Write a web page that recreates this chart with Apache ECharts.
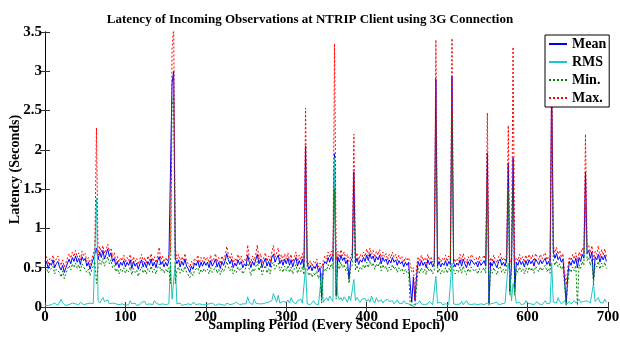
<!DOCTYPE html>
<html>
<head>
<meta charset="utf-8">
<script src="https://cdn.jsdelivr.net/npm/echarts@6/dist/echarts.min.js"></script>
<style>
  html, body { margin: 0; padding: 0; background: #fff; }
  #latencyChart { width: 620px; height: 337px; }
</style>
</head>
<body>
<div id="latencyChart"></div>
<script>
// every second epoch, 0 .. 698; latencies in hundredths of a second
const meanCs = [
  52,58,49,56,53,60,50,55,58,51,47,53,44,50,56,61,55,63,58,65,57,62,54,64,59,
  62,52,57,48,55,61,68,75,60,70,63,72,61,67,74,64,69,58,62,53,58,50,57,53,59,
  51,57,53,60,49,58,52,56,48,55,60,51,57,50,58,53,61,52,57,50,59,64,54,58,51,
  57,52,59,60,285,300,62,55,60,51,58,53,61,52,49,44,52,48,56,53,59,50,57,52,58,
  53,57,50,59,52,56,61,51,57,49,58,53,59,68,60,55,61,50,56,52,60,54,58,50,55,
  52,66,57,50,58,53,60,67,55,61,50,57,62,52,58,51,63,67,57,62,66,55,60,53,61,
  55,62,53,60,51,58,63,52,59,54,61,50,205,56,48,53,46,52,49,55,45,50,12,53,58,
  55,63,57,64,58,195,15,64,57,66,59,63,55,60,35,58,62,172,56,62,54,60,57,63,58,
  66,59,68,61,65,57,64,60,66,55,63,58,61,54,60,56,63,57,60,53,59,55,58,51,57,
  53,57,30,6,38,8,40,58,52,59,53,57,50,60,54,58,51,56,290,52,58,51,56,53,59,
  52,58,54,293,57,51,56,53,60,52,61,55,50,58,53,60,62,54,57,51,58,53,56,59,52,
  196,5,57,52,59,54,50,58,61,53,57,52,60,183,20,55,190,20,57,53,60,54,58,51,59,
  53,60,55,59,52,61,63,54,60,55,59,62,54,58,52,290,70,62,68,60,64,57,61,35,5,
  40,58,53,60,55,62,50,63,58,67,62,172,68,72,62,70,35,64,60,67,57,65,60,66,58
];
const rmsCs = [
  2,3,2,4,3,2,5,3,2,4,10,5,3,2,4,3,2,5,3,4,2,3,6,4,3,
  2,4,3,5,3,4,6,138,8,5,4,12,7,5,9,4,6,5,3,4,5,3,2,4,3,
  2,4,3,8,4,3,5,2,4,3,6,4,7,3,5,4,6,3,8,5,4,3,5,4,6,
  3,5,4,56,10,8,56,4,3,5,2,4,3,5,4,2,3,6,4,3,5,4,2,3,4,
  3,2,4,3,5,4,2,3,4,6,3,4,2,5,4,3,5,4,3,6,4,3,5,4,3,
  4,13,6,4,3,10,5,3,4,6,4,3,5,4,6,4,8,17,12,6,15,5,4,7,5,
  6,9,5,12,7,5,4,8,6,10,5,7,50,4,6,3,5,8,4,6,3,5,43,6,9,
  12,8,14,10,7,190,45,15,9,12,8,13,10,6,14,8,10,35,8,12,9,6,10,8,11,
  7,10,6,14,8,5,12,7,6,9,5,8,6,10,7,5,8,4,6,9,5,7,4,8,5,
  6,4,3,2,4,3,2,5,8,4,6,3,5,4,7,5,3,4,39,5,4,6,3,5,4,
  6,3,5,56,4,6,3,5,4,7,3,5,8,4,6,3,5,4,6,3,5,4,6,3,5,
  5,6,4,3,5,4,6,3,5,4,6,5,4,56,40,8,30,20,5,4,6,3,5,4,8,
  5,7,4,6,3,5,7,4,6,3,5,8,4,6,5,56,6,8,5,12,7,4,6,8,3,
  5,7,4,6,8,5,4,10,6,4,7,5,8,6,5,4,30,7,5,12,6,8,5,10,6
];
const minCs = [
  46,49,43,47,45,52,42,48,50,44,38,46,36,43,48,53,47,55,50,56,49,54,46,55,51,
  53,44,48,40,47,52,58,30,50,60,54,62,52,58,64,55,60,50,53,45,49,42,48,45,50,
  43,48,45,51,41,49,44,47,39,46,51,43,48,42,49,45,52,44,48,42,50,55,46,49,43,
  48,44,50,30,255,270,30,47,51,43,49,45,52,44,41,37,44,40,47,45,50,42,48,44,49,
  45,48,42,50,44,47,52,43,48,41,49,45,50,58,51,46,52,42,47,44,51,46,49,42,46,
  44,56,48,40,49,45,51,58,46,52,41,48,53,43,49,42,54,57,48,53,56,46,51,44,52,
  46,53,44,51,42,49,54,43,50,45,52,41,160,47,40,44,38,43,40,46,36,41,5,44,49,
  46,54,48,55,49,150,10,55,48,57,50,54,46,51,30,49,53,132,47,53,45,51,48,54,49,
  57,50,59,52,56,48,55,51,57,46,54,49,52,45,51,47,54,48,51,44,50,46,49,42,48,
  44,48,5,0,2,0,1,49,43,50,44,48,41,51,45,49,42,47,240,43,49,42,47,44,50,
  43,49,45,245,48,42,47,44,51,43,52,46,41,49,44,51,53,45,48,42,49,44,47,50,43,
  160,2,48,43,50,45,41,49,52,44,48,43,51,150,15,46,155,15,48,44,51,45,49,42,50,
  44,51,46,50,43,52,54,45,51,46,50,53,45,49,43,245,60,53,59,51,55,48,52,28,2,
  30,49,44,51,46,53,2,54,49,58,53,130,59,63,53,61,28,55,51,58,48,56,51,57,49
];
const maxCs = [
  58,64,55,62,59,66,57,61,65,57,53,60,51,56,63,68,62,70,64,72,63,69,60,71,65,
  68,58,63,54,61,67,74,228,66,77,70,78,68,73,80,71,75,64,69,59,64,57,63,59,66,
  57,63,59,67,55,64,58,62,54,61,67,57,63,56,65,59,68,58,64,56,65,76,60,65,57,
  63,58,66,70,330,355,75,61,67,57,64,59,68,58,55,50,58,54,62,59,66,56,63,58,64,
  59,63,56,66,58,62,68,57,63,55,65,59,66,77,67,61,68,56,62,58,67,60,65,56,61,
  58,79,63,56,65,59,67,79,61,68,56,63,69,58,65,57,70,78,63,69,75,61,67,59,68,
  61,69,59,67,57,64,70,58,66,60,68,56,253,62,54,59,52,58,55,61,51,56,50,59,65,
  61,70,63,71,64,335,60,71,63,73,65,70,61,67,58,64,69,220,62,69,60,67,63,70,64,
  74,65,75,67,72,63,71,66,73,61,70,64,68,60,67,62,70,63,67,59,66,61,64,57,63,
  59,63,55,45,50,8,52,64,58,66,59,63,56,67,60,64,57,62,340,58,64,57,62,59,66,
  58,65,60,342,63,57,62,59,67,58,68,61,56,64,59,67,69,60,63,57,65,59,62,66,58,
  247,50,63,58,66,60,56,64,68,59,63,58,67,231,55,61,331,55,63,59,67,60,64,57,66,
  59,67,61,66,58,68,70,60,67,61,66,69,60,64,58,330,78,69,76,67,72,63,68,45,28,
  50,64,59,67,61,69,58,70,65,75,69,220,76,79,69,78,60,71,67,78,63,73,66,74,64
];

const seriesNames = ["Mean", "RMS", "Min.", "Max."];

const toPoints = (arr) => arr.map((v, i) => [i * 2, v / 100]);

const font = "Liberation Serif";
const tickFont = { fontFamily: font, fontWeight: "bold", fontSize: 15, color: "#000" };
const nameFont = { fontFamily: font, fontWeight: "bold", fontSize: 14, color: "#000" };

const chart = echarts.init(document.getElementById("latencyChart"));

const axisCommon = {
  type: "value",
  splitLine: { show: false },
  axisLine: { show: true, lineStyle: { color: "#000", width: 1 } },
  axisTick: { show: true, inside: true, length: 5, lineStyle: { color: "#333" } }
};

const option = {
  animation: false,
  backgroundColor: "#fff",
  title: {
    text: "Latency of Incoming Observations at NTRIP Client using 3G Connection",
    left: "center",
    top: 8,
    textStyle: { fontFamily: font, fontWeight: "bold", fontSize: 13, color: "#000" }
  },
  legend: {
    data: seriesNames,
    orient: "vertical",
    left: 545,
    top: 35,
    padding: [2, 3, 2, 3],
    itemWidth: 18,
    itemHeight: 13,
    itemGap: 4,
    backgroundColor: "#fff",
    borderColor: "#000",
    borderWidth: 1,
    itemStyle: { opacity: 0 },
    textStyle: { fontFamily: font, fontWeight: "bold", fontSize: 14, color: "#000" }
  },
  grid: { left: 45, right: 12, top: 32, bottom: 30, outerBoundsMode: "none" },
  xAxis: [
    {
      ...axisCommon,
      min: 0, max: 700, interval: 100,
      position: "bottom",
      axisLabel: { ...tickFont, margin: 3 },
      name: "Sampling Period (Every Second Epoch)",
      nameLocation: "middle",
      nameGap: 11,
      nameMoveOverlap: false,
      nameTextStyle: nameFont
    },
    {
      ...axisCommon,
      min: 0, max: 700, interval: 100,
      position: "top",
      axisLabel: { show: false }
    }
  ],
  yAxis: [
    {
      ...axisCommon,
      min: 0, max: 3.5, interval: 0.5,
      position: "left",
      axisLabel: { ...tickFont, margin: 3 },
      name: "Latency (Seconds)",
      nameLocation: "middle",
      nameGap: 23,
      nameMoveOverlap: false,
      nameTextStyle: nameFont
    },
    {
      ...axisCommon,
      min: 0, max: 3.5, interval: 0.5,
      position: "right",
      axisLabel: { show: false }
    }
  ],
  series: [
    {
      name: "Mean", type: "line", symbol: "none",
      data: toPoints(meanCs),
      lineStyle: { color: "#0000ff", width: 1 },
      itemStyle: { color: "#0000ff" }
    },
    {
      name: "RMS", type: "line", symbol: "none",
      data: toPoints(rmsCs),
      lineStyle: { color: "#1fc4c4", width: 1 },
      itemStyle: { color: "#1fc4c4" }
    },
    {
      name: "Min.", type: "line", symbol: "none",
      data: toPoints(minCs),
      lineStyle: { color: "#008000", width: 1, type: [2, 2] },
      itemStyle: { color: "#008000" }
    },
    {
      name: "Max.", type: "line", symbol: "none",
      data: toPoints(maxCs),
      lineStyle: { color: "#ff0000", width: 1, type: [2, 2] },
      itemStyle: { color: "#ff0000" }
    }
  ]
};

chart.setOption(option);
</script>
</body>
</html>
